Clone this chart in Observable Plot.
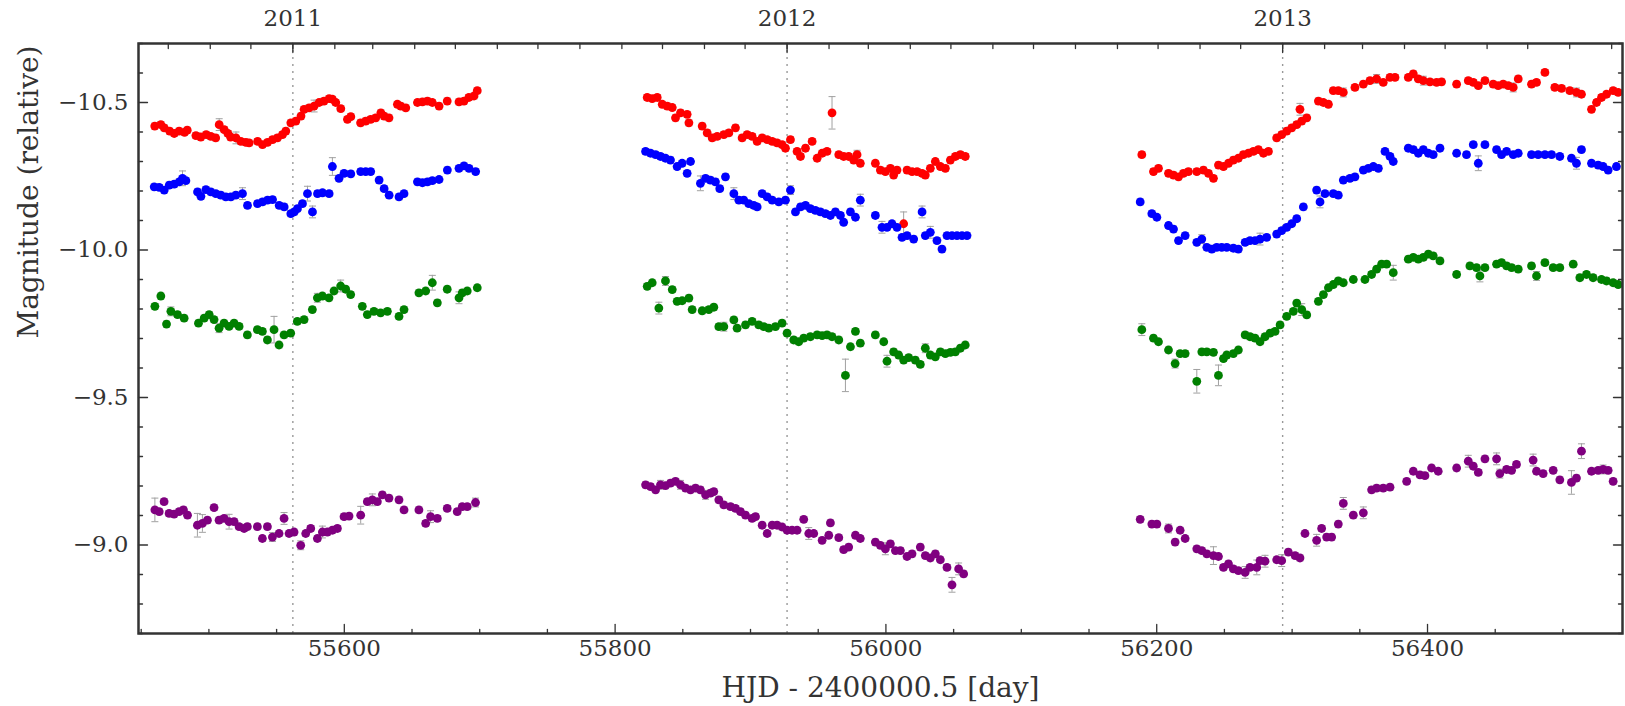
<!DOCTYPE html>
<html><head><meta charset="utf-8">
<script src="https://cdn.jsdelivr.net/npm/d3@7"></script>
<script src="https://cdn.jsdelivr.net/npm/@observablehq/plot@0.6"></script>
<style>
html,body{margin:0;padding:0;background:#fff;}
#chart svg{display:block;}
</style></head><body><div id="chart"></div>
<script>
// ---- data: [HJD-2400000.5, magnitude, (error if notably large)] ----
const DEFAULT_ERR = 0.01;
const redPts = [
[55460,-10.420],[55464.5,-10.425],[55467,-10.414],[55471,-10.403],[55474.4,-10.395],[55478,-10.403],[55482,-10.399],[55484,-10.406],[55490.4,-10.388],[55494,-10.383],[55498,-10.391],[55501.4,-10.385],[55505,-10.380],[55507.6,-10.425,0.02],[55511.3,-10.408],[55514,-10.395],[55516,-10.383],[55520,-10.380,0.02],[55523.6,-10.368],[55527.3,-10.365],[55529.7,-10.363],[55536,-10.368],[55539.6,-10.357],[55543.3,-10.365],[55547,-10.374],[55550.6,-10.380],[55554.3,-10.391],[55556.8,-10.403],[55560.5,-10.431],[55564.2,-10.437],[55568,-10.454],[55570.3,-10.477],[55574,-10.482],[55577.7,-10.488,0.02],[55581.4,-10.500],[55585,-10.505],[55588.8,-10.513],[55591.2,-10.511],[55593.7,-10.500],[55597.4,-10.479],[55602.3,-10.443],[55604.8,-10.452],[55612,-10.431],[55615.8,-10.437],[55619.5,-10.443],[55623.2,-10.448],[55627,-10.465],[55629.4,-10.454],[55633,-10.448],[55639.2,-10.494],[55641.7,-10.488],[55645.4,-10.482],[55654,-10.500],[55657.7,-10.502],[55661.4,-10.505],[55665,-10.500],[55670,-10.488],[55676,-10.505],[55684.7,-10.502],[55688.4,-10.505],[55692,-10.517],[55695.8,-10.522],[55698.2,-10.540],
[55823.7,-10.517],[55827.4,-10.513],[55831.1,-10.517],[55834.8,-10.494],[55838.5,-10.488],[55842.2,-10.483],[55844.6,-10.448],[55848.3,-10.465],[55853.2,-10.460],[55854.5,-10.431],[55864.3,-10.420],[55868,-10.397],[55871.7,-10.380],[55875.4,-10.385],[55880.3,-10.391],[55884,-10.397],[55888.9,-10.414],[55893.8,-10.380],[55897.5,-10.391],[55901.2,-10.385],[55904.9,-10.368],[55908.6,-10.380],[55912.3,-10.374],[55916,-10.368],[55919.6,-10.363],[55923.3,-10.357],[55925.8,-10.345],[55929.5,-10.374],[55934.4,-10.334],[55936.9,-10.317],[55940.6,-10.345],[55945.5,-10.368],[55949.2,-10.311],[55952.9,-10.328],[55956.5,-10.334],[55960.2,-10.465,0.055],[55965.2,-10.323],[55968.8,-10.317],[55972.5,-10.317],[55976.2,-10.305],[55978.7,-10.323,0.015],[55981.1,-10.294],[55992.2,-10.294],[55995.9,-10.271],[55999.6,-10.266],[56003.3,-10.277],[56005.7,-10.254],[56008.2,-10.271],[56013.1,-10.089,0.04],[56015.6,-10.271],[56019.3,-10.266],[56023,-10.266],[56026.7,-10.260],[56029.1,-10.254],[56032.8,-10.277],[56036.5,-10.300],[56040.2,-10.283],[56043.9,-10.277],[56047.6,-10.305],[56051.3,-10.317],[56055,-10.323],[56058.6,-10.317],
[56189,-10.323],[56197.6,-10.266],[56201.3,-10.277],[56208.7,-10.260],[56212.4,-10.254],[56216.1,-10.248],[56219.7,-10.260],[56223.4,-10.266],[56229.6,-10.266],[56234.5,-10.271],[56238.2,-10.260],[56241.9,-10.243],[56245.6,-10.288],[56249.3,-10.283],[56253,-10.294],[56256.6,-10.305],[56260.3,-10.311],[56264,-10.323],[56267.7,-10.328],[56271.4,-10.334],[56275.1,-10.340],[56278.8,-10.328],[56282.5,-10.334],[56288.6,-10.380],[56292.3,-10.391],[56296,-10.403],[56299.7,-10.414],[56303.4,-10.425],[56305.8,-10.477,0.02],[56307.1,-10.437],[56310.8,-10.448],[56319.4,-10.505],[56323.1,-10.500],[56326.8,-10.494],[56330.4,-10.540],[56334.1,-10.540],[56337.8,-10.534,0.015],[56346.4,-10.551],[56352.6,-10.562],[56357.5,-10.574],[56362.4,-10.580,0.015],[56367.3,-10.568],[56372.3,-10.585],[56376,-10.585],[56385.8,-10.585],[56389.5,-10.597],[56393.2,-10.580],[56396.9,-10.574,0.015],[56401.8,-10.570],[56406.7,-10.568],[56410.4,-10.570],[56421.5,-10.562],[56430.1,-10.574],[56433.8,-10.568],[56437.5,-10.557],[56442.4,-10.574],[56448.5,-10.562],[56452.2,-10.557],[56455.9,-10.562],[56459.6,-10.557],[56463.3,-10.551,0.015],[56467,-10.580],[56476.8,-10.562],[56480.5,-10.568],[56486.7,-10.602],[56494,-10.551],[56499,-10.548],[56505.1,-10.540],[56510,-10.534,0.015],[56513.7,-10.528],[56521.1,-10.477],[56524.8,-10.500],[56528.5,-10.517],[56532.2,-10.528],[56537.1,-10.540],[56540.8,-10.534]
];
const bluePts = [
[55459.6,-10.214],[55463.3,-10.212],[55467,-10.203],[55470.7,-10.220],[55474.4,-10.223],[55478.1,-10.231],[55480.5,-10.243,0.025],[55483,-10.235],[55491.6,-10.197],[55494.1,-10.182],[55497.8,-10.205],[55501.4,-10.197],[55505.1,-10.191],[55508.8,-10.186],[55512.5,-10.180],[55516.2,-10.180],[55519.9,-10.186],[55524.8,-10.191,0.02],[55528.5,-10.151],[55535.9,-10.157],[55539.6,-10.163],[55543.3,-10.169],[55547,-10.171],[55551.9,-10.151],[55555.6,-10.146],[55560.5,-10.123],[55563,-10.129],[55565.4,-10.140],[55569.1,-10.157],[55572.8,-10.191,0.025],[55576.5,-10.129,0.02],[55580.2,-10.191],[55583.9,-10.194],[55588.8,-10.191],[55591.2,-10.283,0.03],[55596.1,-10.243],[55599.8,-10.260],[55604.8,-10.258],[55612.1,-10.266],[55615.8,-10.266],[55619.5,-10.266],[55625.7,-10.237],[55629.4,-10.208],[55633.1,-10.186],[55640.4,-10.180],[55644.1,-10.191],[55654,-10.231],[55657.7,-10.228],[55661.4,-10.231],[55665,-10.235],[55670,-10.239],[55676.1,-10.271],[55684.7,-10.277],[55688.4,-10.285],[55692.1,-10.277],[55697,-10.266],
[55822.5,-10.334],[55826.2,-10.328],[55829.9,-10.323],[55833.5,-10.317],[55837.2,-10.311],[55840.9,-10.305],[55845.8,-10.283],[55849.5,-10.294],[55853.2,-10.260],[55855.7,-10.300],[55863,-10.226,0.025],[55866.8,-10.243],[55870.4,-10.237],[55874.1,-10.231],[55877.3,-10.208],[55881.5,-10.248],[55887.7,-10.191,0.02],[55891.4,-10.169],[55895,-10.169],[55898.7,-10.157],[55902.4,-10.151],[55904.9,-10.146],[55908.6,-10.191],[55912.3,-10.180],[55916,-10.169],[55920.9,-10.163],[55925.8,-10.169],[55929.5,-10.203,0.015],[55933.2,-10.129],[55936.9,-10.146],[55940.6,-10.151],[55944.2,-10.140],[55947.9,-10.134],[55951.6,-10.129],[55955.3,-10.123],[55959,-10.117],[55962.7,-10.129],[55966.4,-10.117],[55968.8,-10.094],[55973.8,-10.129],[55977.5,-10.111],[55981.1,-10.169,0.02],[55992.2,-10.117],[55997.1,-10.077,0.02],[56000.8,-10.077],[56004.5,-10.089],[56008.2,-10.077],[56011.9,-10.043],[56015.6,-10.049],[56020.5,-10.037],[56026.7,-10.129,0.02],[56029.1,-10.049],[56032.8,-10.060,0.02],[56037.7,-10.032],[56041.4,-10.003],[56045.1,-10.049],[56048.8,-10.049],[56052.5,-10.049],[56056.2,-10.049],[56059.9,-10.049],
[56187.8,-10.163],[56196.4,-10.123],[56200.1,-10.111],[56208.7,-10.083],[56212.4,-10.071],[56216.1,-10.032],[56221,-10.049],[56229.6,-10.026],[56233.3,-10.037,0.015],[56237,-10.009],[56240.7,-10.003],[56244.3,-10.009],[56248,-10.009],[56251.7,-10.009],[56256.6,-10.006],[56260.3,-10.003],[56265.3,-10.026],[56268.9,-10.032],[56272.6,-10.032],[56276.3,-10.037,0.02],[56281.2,-10.043],[56288.6,-10.054],[56292.3,-10.066],[56296,-10.077],[56299.7,-10.089],[56303.4,-10.106],[56308.3,-10.146],[56318.1,-10.203],[56320.6,-10.163,0.02],[56324.3,-10.191],[56330.4,-10.191],[56334.1,-10.186],[56337.8,-10.237],[56342.7,-10.243],[56346.4,-10.248],[56352.6,-10.271],[56356.3,-10.277],[56360,-10.283],[56363.7,-10.277],[56368.6,-10.334],[56372.3,-10.317],[56374.7,-10.300],[56385.8,-10.345],[56389.5,-10.340],[56393.2,-10.328],[56396.9,-10.340],[56400.6,-10.328],[56404.2,-10.323],[56409.2,-10.345],[56421.5,-10.328],[56428.8,-10.323],[56433.8,-10.357],[56437.5,-10.294,0.025],[56442.4,-10.357],[56451,-10.340],[56454.7,-10.323],[56458.4,-10.334],[56463.3,-10.323],[56467,-10.328],[56476.8,-10.323],[56481.7,-10.323],[56486.7,-10.323],[56491.6,-10.323],[56497.7,-10.317],[56506.3,-10.311],[56510,-10.294,0.02],[56513.7,-10.340],[56521.1,-10.294],[56526,-10.288],[56529.7,-10.283],[56533.4,-10.271],[56539.5,-10.283]
];
const greenPts = [
[55460.1,-9.809],[55464.5,-9.844],[55468.7,-9.749],[55471.9,-9.792,0.015],[55476.8,-9.781],[55481.7,-9.769],[55492.3,-9.752],[55496.5,-9.769],[55500.2,-9.781],[55503.8,-9.764],[55507.5,-9.735,0.015],[55511.2,-9.752],[55514.9,-9.741],[55518.6,-9.752],[55522.3,-9.741],[55528.4,-9.712],[55535.8,-9.730],[55539.5,-9.724],[55543.2,-9.695],[55548.1,-9.730,0.045],[55551.8,-9.678],[55555.5,-9.712],[55560.4,-9.718],[55565.3,-9.758],[55570.3,-9.764],[55576.4,-9.798],[55580.1,-9.838,0.015],[55583.8,-9.844],[55588.7,-9.838],[55592.4,-9.861],[55597.3,-9.878,0.02],[55601,-9.867],[55604.7,-9.849],[55613.3,-9.809],[55617,-9.781],[55621.9,-9.792],[55626.8,-9.787],[55631.8,-9.792],[55640.4,-9.775],[55644.1,-9.798],[55655.1,-9.855],[55660.1,-9.861],[55665,-9.889,0.025],[55668.7,-9.821],[55676,-9.867],[55684.7,-9.838,0.02],[55687.1,-9.855],[55690.8,-9.861],[55698.2,-9.872],
[55823.7,-9.877],[55827.4,-9.889],[55832.3,-9.803,0.02],[55837.2,-9.895,0.015],[55842.2,-9.866],[55845.8,-9.826],[55849.5,-9.828],[55854.5,-9.837],[55856.9,-9.798],[55864.3,-9.794],[55869.2,-9.798],[55872.9,-9.806],[55876.6,-9.740],[55880.3,-9.740,0.015],[55887.7,-9.763],[55890.1,-9.735],[55896.3,-9.746],[55901.2,-9.758],[55906.1,-9.746],[55909.8,-9.740],[55913.5,-9.735],[55918.4,-9.740],[55923.3,-9.752],[55927,-9.718],[55931.9,-9.695],[55935.6,-9.689],[55939.3,-9.701],[55944.2,-9.706],[55949.2,-9.712],[55952.9,-9.710],[55956.5,-9.712],[55960.2,-9.706],[55965.2,-9.695],[55970.1,-9.575,0.055],[55973.8,-9.672],[55977.5,-9.724],[55981.1,-9.684],[55992.2,-9.712],[55998.4,-9.689],[56000.8,-9.623,0.02],[56005.7,-9.655],[56009.4,-9.644],[56013.1,-9.627],[56016.8,-9.635],[56021.7,-9.627],[56025.4,-9.612],[56029.1,-9.667,0.015],[56032.8,-9.644],[56036.5,-9.638],[56040.2,-9.655],[56043.9,-9.649],[56047.6,-9.653],[56051.3,-9.655],[56055,-9.667],[56058.6,-9.678],
[56189,-9.730,0.02],[56197.6,-9.701],[56201.3,-9.689],[56208.7,-9.661],[56213.6,-9.615,0.015],[56217.3,-9.649],[56221,-9.649],[56229.6,-9.555,0.04],[56233.3,-9.655],[56237,-9.655],[56241.9,-9.653],[56245.6,-9.575,0.035],[56249.3,-9.632],[56251.7,-9.644],[56256.6,-9.649],[56260.3,-9.661],[56265.3,-9.712],[56268.9,-9.706],[56272.6,-9.701],[56276.3,-9.689],[56280,-9.706],[56283.7,-9.718],[56287.4,-9.724],[56291.1,-9.746],[56296,-9.775],[56300.9,-9.792],[56303.4,-9.820],[56307.1,-9.798,0.02],[56310.8,-9.780],[56319.4,-9.826],[56323.1,-9.849],[56326.8,-9.872],[56330.4,-9.883],[56334.1,-9.895],[56337.8,-9.889],[56345.2,-9.900],[56353.8,-9.900],[56358.7,-9.917],[56362.4,-9.935],[56366.1,-9.952],[56369.8,-9.952],[56374.7,-9.923,0.025],[56385.8,-9.969],[56389.5,-9.975],[56393.2,-9.969],[56396.9,-9.975],[56400.6,-9.986],[56404.2,-9.980],[56409.2,-9.963],[56421.5,-9.917],[56431.3,-9.946],[56436.2,-9.940],[56438.7,-9.912,0.02],[56442.4,-9.940],[56451,-9.952],[56454.7,-9.957],[56458.4,-9.946],[56462.1,-9.940],[56467,-9.935],[56476.8,-9.946],[56480.5,-9.912,0.015],[56486.7,-9.957],[56492.8,-9.940],[56497.7,-9.940],[56507.6,-9.952],[56512.5,-9.906],[56517.4,-9.917],[56522.3,-9.906],[56528.5,-9.900],[56532.2,-9.895],[56537.1,-9.889],[56540.8,-9.883]
];
const purplePts = [
[55460.1,-9.119,0.04],[55463.3,-9.113],[55466.9,-9.147],[55470.6,-9.107],[55474.3,-9.105],[55478,-9.113],[55481.2,-9.119],[55484.2,-9.101],[55491.5,-9.067,0.04],[55495.2,-9.073,0.03],[55498.9,-9.084],[55503.8,-9.127],[55507.5,-9.084],[55511.2,-9.090],[55514.9,-9.079,0.025],[55518.6,-9.079],[55522.3,-9.062],[55526,-9.056],[55528.4,-9.062],[55535.8,-9.062],[55539.5,-9.022],[55543.2,-9.062],[55546.9,-9.027,0.015],[55551.8,-9.039],[55555.5,-9.090,0.02],[55559.2,-9.039],[55562.9,-9.044],[55567.8,-8.999,0.015],[55571.5,-9.039],[55575.2,-9.056],[55580.1,-9.022],[55583.8,-9.044,0.02],[55587.5,-9.044],[55591.2,-9.050],[55594.9,-9.056],[55599.8,-9.096],[55603.5,-9.098],[55612.1,-9.101,0.03],[55617,-9.147],[55620.7,-9.153,0.02],[55624.4,-9.147],[55628.1,-9.170],[55633,-9.159],[55640.4,-9.153],[55644.1,-9.119],[55655.1,-9.119],[55660.1,-9.073],[55663.7,-9.096,0.02],[55668.7,-9.090],[55676,-9.124],[55683.4,-9.113],[55687.1,-9.130],[55690.8,-9.130],[55696.9,-9.144,0.015],
[55822.5,-9.204],[55826.2,-9.198],[55829.9,-9.187],[55833.5,-9.204,0.015],[55837.2,-9.201],[55840.9,-9.210],[55844.6,-9.216],[55848.3,-9.204,0.015],[55852,-9.193],[55855.7,-9.187],[55859.4,-9.193],[55863,-9.187],[55866.8,-9.170,0.015],[55870.4,-9.176],[55872.9,-9.181],[55876.6,-9.153],[55880.3,-9.136],[55885.2,-9.130],[55888.9,-9.124],[55892.6,-9.113],[55896.3,-9.101],[55901.2,-9.090],[55903.7,-9.096],[55908.6,-9.067],[55912.3,-9.039],[55916,-9.067],[55919.6,-9.067],[55923.3,-9.061],[55927,-9.050],[55930.7,-9.050],[55934.4,-9.050],[55939.3,-9.087],[55943,-9.039,0.02],[55946.7,-9.039],[55952.9,-9.016],[55957.8,-9.033],[55959,-9.075],[55965.2,-9.025],[55968.8,-8.984],[55972.5,-8.993],[55977.5,-9.033],[55981.1,-9.022],[55992.2,-9.010],[55995.9,-8.999],[55999.6,-8.987,0.02],[56003.3,-9.004],[56007,-8.981],[56010.7,-8.981],[56015.6,-8.961],[56019.3,-8.970],[56025.4,-8.993],[56029.1,-8.964],[56032.8,-8.956],[56036.5,-8.970],[56040.2,-8.950],[56045.1,-8.924],[56048.8,-8.865,0.025],[56053.7,-8.919,0.02],[56057.4,-8.902],
[56187.8,-9.087],[56196.4,-9.071],[56200.1,-9.071],[56208.7,-9.056,0.015],[56213.6,-9.010],[56217.3,-9.050],[56221,-9.022],[56229.6,-8.987],[56233.3,-8.981],[56237,-8.970],[56241.9,-8.964,0.03],[56245.6,-8.961],[56249.3,-8.924],[56253,-8.936],[56256.6,-8.919],[56260.3,-8.913],[56265.3,-8.907,0.02],[56268.9,-8.924],[56273.9,-8.924,0.025],[56276.3,-8.947],[56280,-8.945,0.02],[56288.6,-8.950],[56292.3,-8.947,0.02],[56297.2,-8.976],[56302.2,-8.964],[56305.8,-8.956],[56309.5,-9.039],[56318.1,-9.016,0.02],[56321.8,-9.056],[56325.5,-9.027],[56329.2,-9.027],[56334.1,-9.071],[56337.8,-9.141,0.02],[56345.2,-9.101],[56352.6,-9.109,0.02],[56358.7,-9.187],[56362.4,-9.193],[56367.3,-9.193],[56372.3,-9.196],[56384.6,-9.216],[56389.5,-9.250],[56394.4,-9.238],[56398.1,-9.235],[56403,-9.261],[56407.9,-9.250],[56421.5,-9.261],[56430.1,-9.284,0.02],[56433.8,-9.267],[56437.5,-9.246],[56442.4,-9.292],[56451,-9.292,0.02],[56453.4,-9.242,0.015],[56458.4,-9.256],[56462.1,-9.253],[56465.7,-9.273],[56478,-9.288,0.02],[56480.5,-9.250],[56485.4,-9.242],[56492.8,-9.253],[56497.7,-9.221],[56506.3,-9.212,0.04],[56510,-9.227],[56513.7,-9.318,0.025],[56521.1,-9.250],[56526,-9.253],[56529.7,-9.256,0.015],[56533.4,-9.253],[56537.1,-9.216]
];
const seriesNames = ["red", "blue", "green", "purple"];
const seriesColors = ["#f0261c", "#1414ff", "#22a022", "#850a85"];
const xMajorTicks = [55600, 55800, 56000, 56200, 56400];
const xMinorTicks = [55450,55500,55550,55650,55700,55750,55850,55900,55950,56050,56100,56150,56250,56300,56350,56450,56500];
const yMajorTicks = [-10.5, -10.0, -9.5, -9.0];
const yMinorTicks = [-10.7,-10.6,-10.4,-10.3,-10.2,-10.1,-9.9,-9.8,-9.7,-9.6,-9.4,-9.3,-9.2,-9.1,-8.9,-8.8,-8.7];
const yearLabels = ["2011", "2012", "2013"];
const xLabel = "HJD - 2400000.5 [day]";
const yLabel = "Magnitude (relative)";

// ---- derived ----
const MJD0 = Date.UTC(1858, 10, 17);
const toMJD = d => (+d - MJD0) / 864e5;
const yearMJD = yearLabels.map(y => toMJD(Date.UTC(+y, 0, 1)));
const xDomain = [55448, 56544];
const monthTicks = d3.utcMonth.range(new Date(Date.UTC(2010, 8, 1)), new Date(Date.UTC(2014, 0, 1)))
  .map(toMJD).filter(t => t >= xDomain[0] && t <= xDomain[1]);

const allSeries = [redPts, bluePts, greenPts, purplePts];
const rows = allSeries.flatMap((pts, i) => pts.map(([t, m, e]) => ({name: seriesNames[i], t, m, e: e ?? DEFAULT_ERR})));

const tickShape = {draw(ctx, l) { ctx.moveTo(0, 0); ctx.lineTo(0, -l); }};
const capSymbol = {draw(ctx, size) { const w = Math.sqrt(size / Math.PI); ctx.moveTo(-w, 0); ctx.lineTo(w, 0); }};
const tk = {shape: tickShape, anchor: "start", stroke: "#333", strokeWidth: 1.3, fill: "none"};
const errStyle = {stroke: "#a0a0a0", strokeWidth: 1};

const chart = Plot.plot({
  width: 1625, height: 706,
  marginLeft: 138, marginRight: 3, marginTop: 43, marginBottom: 73,
  style: {fontFamily: "'DejaVu Serif', serif", fontSize: "23px", color: "#333", background: "#fff"},
  x: {domain: xDomain},
  y: {domain: [-10.7, -8.7], reverse: true},
  color: {domain: seriesNames, range: seriesColors},
  marks: [
    Plot.ruleX(yearMJD, {x: d => d, stroke: "#999", strokeDasharray: "2,5", strokeWidth: 1.4}),
    Plot.ruleX(rows, {x: "t", y1: d => d.m - d.e, y2: d => d.m + d.e, ...errStyle}),
    Plot.dot(rows, {x: "t", y: d => d.m - d.e, symbol: capSymbol, r: 3.5, fill: "none", ...errStyle}),
    Plot.dot(rows, {x: "t", y: d => d.m + d.e, symbol: capSymbol, r: 3.5, fill: "none", ...errStyle}),
    Plot.dot(rows, {x: "t", y: "m", fill: "name", r: 4.4}),
    Plot.frame({stroke: "#333", strokeWidth: 2.5}),
    Plot.vector(xMajorTicks, {x: d => d, frameAnchor: "bottom", rotate: 0, length: 9, ...tk}),
    Plot.vector(xMinorTicks, {x: d => d, frameAnchor: "bottom", rotate: 0, length: 4, ...tk}),
    Plot.vector(monthTicks, {x: d => d, frameAnchor: "top", rotate: 180, length: 5, ...tk}),
    Plot.vector(yearMJD, {x: d => d, frameAnchor: "top", rotate: 180, length: 9, ...tk}),
    Plot.vector(yMajorTicks, {y: d => d, frameAnchor: "left", rotate: 90, length: 9, ...tk}),
    Plot.vector(yMinorTicks, {y: d => d, frameAnchor: "left", rotate: 90, length: 4, ...tk}),
    Plot.vector(yMajorTicks, {y: d => d, frameAnchor: "right", rotate: -90, length: 9, ...tk}),
    Plot.vector(yMinorTicks, {y: d => d, frameAnchor: "right", rotate: -90, length: 4, ...tk}),
    Plot.axisX(xMajorTicks, {anchor: "bottom", tickSize: 0, tickPadding: 6, tickFormat: d => String(d), label: null}),
    Plot.axisX(yearMJD, {anchor: "top", tickSize: 0, tickPadding: 18, tickFormat: d => yearLabels[yearMJD.indexOf(d)], label: null}),
    Plot.axisY(yMajorTicks, {anchor: "left", tickSize: 0, tickPadding: 10, tickFormat: d3.format(".1f"), label: null}),
    Plot.text([xLabel], {text: d => d, frameAnchor: "bottom", dy: 55, lineAnchor: "middle", fontSize: 28, fill: "#333"}),
    Plot.text([yLabel], {text: d => d, frameAnchor: "left", dx: -109, rotate: -90, lineAnchor: "middle", fontSize: 28, fill: "#333"})
  ]
});
document.getElementById("chart").appendChild(chart);
</script></body></html>
